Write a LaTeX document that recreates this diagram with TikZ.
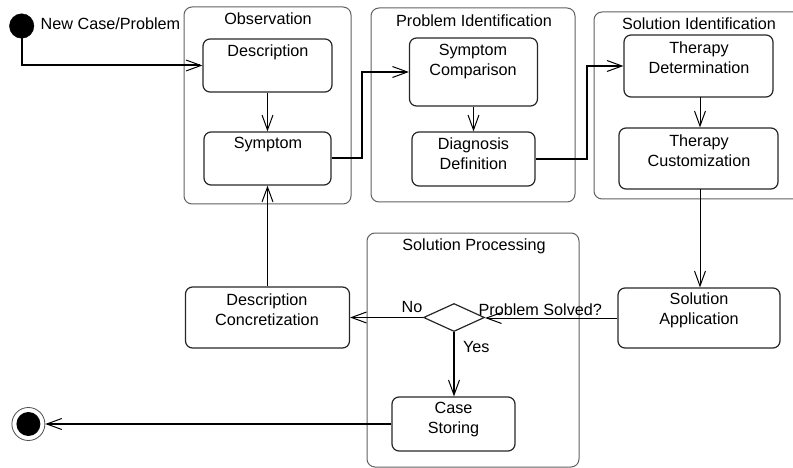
\documentclass[tikz,border=0pt]{standalone}
\usepackage{fontspec}
\setmainfont{Liberation Sans}
\usetikzlibrary{arrows.meta,shapes.geometric}
\begin{document}
\begin{tikzpicture}[x=1pt,y=-1pt,
  every node/.style={font=\fontsize{16.2}{20}\selectfont},
  part/.style={draw=black!62,line width=1pt,rounded corners=8pt},
  box/.style={draw=black!85,line width=1.2pt,rounded corners=7pt,inner sep=0pt},
  txt/.style={inner sep=0pt,align=center},
  openarrow/.style={-{Straight Barb[length=15pt,width=11pt,line width=1pt]}},
  thick2/.style={line width=2pt},
  mid/.style={line width=1.3pt},
  thin1/.style={line width=1pt}]
\useasboundingbox (0,0) rectangle (793,468);
% partitions
\draw[part] (184,7) rectangle (351,204);
\node[txt] (lobs) at (268,19) {Observation};
\draw[part] (371,8) rectangle (575,202);
\node[txt] (lpi) at (474,21) {Problem Identification};
\draw[part] (594,12) rectangle (805,199);
\node[txt] (lsi) at (699,24) {Solution Identification};
\draw[part] (367,233) rectangle (579,467);
\node[txt] (lsp) at (474,246) {Solution Processing};
% boxes
\node[box,minimum width=129pt,minimum height=53pt] (desc) at (267.5,65.5) {};
\node[txt] (tdesc) at (268,52) {Description};
\node[box,minimum width=127pt,minimum height=53pt] (symp) at (267.5,158.5) {};
\node[txt] (tsymp) at (268,145) {Symptom};
\node[box,minimum width=128pt,minimum height=68pt] (sc) at (473.5,72) {};
\node[txt] (tsc) at (473,61.7) {Symptom\\Comparison};
\node[box,minimum width=123pt,minimum height=54pt] (dd) at (473.5,159) {};
\node[txt] (tdd) at (473.5,154) {Diagnosis\\Definition};
\node[box,minimum width=149pt,minimum height=62pt] (td) at (698.5,66) {};
\node[txt] (ttd) at (699,58) {Therapy\\Determination};
\node[box,minimum width=159pt,minimum height=61pt] (tc) at (698.5,158.5) {};
\node[txt] (ttc) at (699,151) {Therapy\\Customization};
\node[box,minimum width=164pt,minimum height=61pt] (dc) at (267.5,317.5) {};
\node[txt] (tdc) at (267,309.7) {Description\\Concretization};
\node[box,minimum width=162pt,minimum height=60pt] (sa) at (699,318) {};
\node[txt] (tsa) at (699,310) {Solution\\Application};
\node[box,minimum width=123pt,minimum height=54pt] (cs) at (453.5,424) {};
\node[txt] (tcs) at (453.5,419.7) {Case\\Storing};
% decision
\node[draw=black!85,line width=1.2pt,diamond,inner sep=0pt,minimum width=61pt,minimum height=28pt] (dia) at (454,317.5) {};
% start / end
\node[circle,fill=black,draw=black,inner sep=0pt,minimum size=24.5pt] (start) at (21.7,26) {};
\node[txt,anchor=west] (tstart) at (40.5,24) {New Case/Problem};
\node[circle,draw=black!70,line width=0.8pt,inner sep=0pt,minimum size=33pt] (endc) at (28.4,424) {};
\node[circle,fill=black,inner sep=0pt,minimum size=24pt] (endin) at (28.4,424) {};
% connectors
\draw[thick2,openarrow] (start.south) |- (desc.west);
\draw[mid,openarrow] (desc.south) -- (desc.south |- symp.north);
\draw[thick2,openarrow] (symp.east) -- ++(30,0) coordinate (c1) |- (sc.west);
\draw[mid,openarrow] (sc.south) -- (sc.south |- dd.north);
\draw[thick2,openarrow] (dd.east) -- ++(51.7,0) coordinate (c2) |- (td.west);
\draw[thin1,openarrow] (700,97) coordinate (c3) -- (c3 |- tc.north);
\draw[thin1,openarrow] (700,189) coordinate (c4) -- (c4 |- sa.north);
\draw[thin1,openarrow] (sa.west) -- (sa.west -| dia.east);
\draw[thin1,openarrow] (dia.west) -- (dia.west -| dc.east);
\draw[thick2,openarrow] (dia.south) -- (dia.south |- cs.north);
\draw[mid,openarrow] (dc.north) -- (dc.north |- symp.south);
\draw[thick2,openarrow] (cs.west) -- (cs.west -| endc.east);
% labels
\node[txt] (lno) at (412,307) {No};
\node[txt] (lyes) at (476.3,346.7) {Yes};
\node[txt] (lps) at (540.3,309.3) {Problem Solved?};
\end{tikzpicture}
\end{document}
